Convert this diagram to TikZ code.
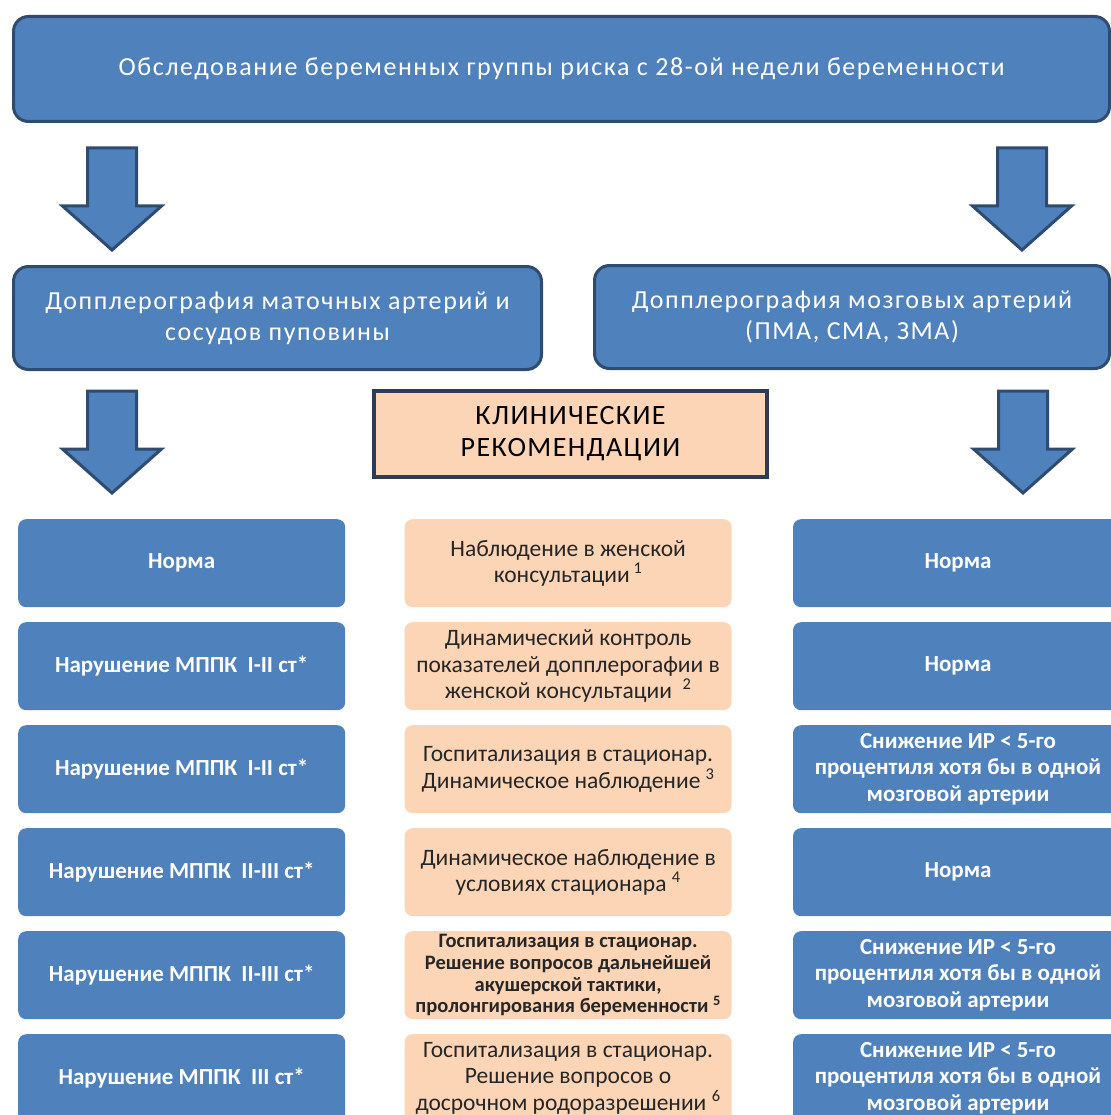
\documentclass[tikz,border=0pt]{standalone}
\usepackage{fontspec}
\setmainfont{Carlito}
\newfontfamily\spacedfont[LetterSpace=6]{Carlito}
\newfontfamily\recfont[LetterSpace=5]{Carlito}
\usetikzlibrary{positioning}

\definecolor{boxblue}{HTML}{4F81BD}
\definecolor{edgeblue}{HTML}{2F4B70}
\definecolor{peach}{HTML}{FBD5B5}
\definecolor{recedge}{HTML}{2C3B57}
\definecolor{midtext}{HTML}{262626}

\tikzset{
    pics/downarrow/.style={
        code={
            \draw[draw=edgeblue, line width=3pt, fill=boxblue, line join=miter]
                (-24.5,0) -- (24.5,0) -- (24.5,-58) -- (49.5,-58)
                -- (0,-102) -- (-49.5,-58) -- (-24.5,-58) -- cycle;
        }
    }
}

\begin{document}
\begin{tikzpicture}[x=1pt, y=1pt,
            headbox/.style={
                draw=edgeblue,
                line width=3pt,
                fill=boxblue,
                rounded corners=15pt,
                text=white,
                font=\spacedfont\fontsize{26}{31}\selectfont,
                inner sep=0pt,
                align=center
            },
            recbox/.style={
                draw=recedge,
                line width=4pt,
                fill=peach,
                font=\recfont\fontsize{28}{32}\selectfont,
                inner sep=0pt,
                align=center
            },
            leftbox/.style={
                fill=boxblue,
                rounded corners=8pt,
                minimum width=327pt,
                minimum height=88pt,
                text=white,
                font=\bfseries\fontsize{23}{26.5}\selectfont,
                inner sep=0pt,
                align=center
            },
            midbox/.style={
                leftbox,
                fill=peach,
                text=midtext,
                font=\fontsize{23.5}{26.5}\selectfont
            },
            rightbox/.style={
                leftbox,
                minimum width=330pt
            }
        ]

        \useasboundingbox (0,0) rectangle (1110,-1115);

        % Survey of the risk group (top, full width)
        \node[headbox,
            minimum width=1096pt,
            minimum height=105pt,
            anchor=north west
        ] (survey) at (12,-15)
            {Обследование беременных группы риска с 28-ой недели беременности};

        % Doppler branches
        \node[headbox,
            minimum width=528pt,
            minimum height=103pt,
            anchor=north west
        ] (uterine) at (12,-265)
            {Допплерография маточных артерий и\\сосудов пуповины};

        \node[headbox,
            minimum width=515pt,
            minimum height=103pt,
            anchor=north west
        ] (cerebral) at (593,-264)
            {Допплерография мозговых артерий\\(ПМА, СМА, ЗМА)};

        \pic at ([xshift=100pt, yshift=-25pt]survey.south west) {downarrow};
        \pic at ([xshift=-89pt, yshift=-25pt]survey.south east) {downarrow};
        \pic at ([xshift=100pt, yshift=-20pt]uterine.south west) {downarrow};
        \pic at ([xshift=-88pt, yshift=-21pt]cerebral.south east) {downarrow};

        % Clinical recommendations header
        \node[recbox,
            minimum width=393pt,
            minimum height=86pt,
            anchor=north west
        ] (clinical) at (372,-389)
            {КЛИНИЧЕСКИЕ\\РЕКОМЕНДАЦИИ};

        % Row 1
        \node[leftbox, anchor=north west] (l1) at (18,-519) {Норма};
        \node[midbox, right=59pt of l1] (m1)
            {Наблюдение в женской\\консультации\,\textsuperscript{1}};
        \node[rightbox, right=61pt of m1.east, anchor=west] (r1) {Норма};

        % Row 2
        \node[leftbox, below=14.6pt of l1] (l2) {Нарушение МППК~~I-II ст*};
        \node[midbox, right=59pt of l2] (m2)
            {Динамический контроль\\показателей допплерогафии в\\женской консультации~~\textsuperscript{2}};
        \node[rightbox, right=61pt of m2.east, anchor=west] (r2) {Норма};

        % Row 3
        \node[leftbox, below=14.6pt of l2] (l3) {Нарушение МППК~~I-II ст*};
        \node[midbox, right=59pt of l3] (m3)
            {Госпитализация в стационар.\\Динамическое наблюдение \textsuperscript{3}};
        \node[rightbox, right=61pt of m3.east, anchor=west] (r3)
            {Снижение ИР < 5-го\\процентиля хотя бы в одной\\мозговой артерии};

        % Row 4
        \node[leftbox, below=14.6pt of l3] (l4) {Нарушение МППК~~II-III ст*};
        \node[midbox, right=59pt of l4] (m4)
            {Динамическое наблюдение в\\условиях стационара \textsuperscript{4}};
        \node[rightbox, right=61pt of m4.east, anchor=west] (r4) {Норма};

        % Row 5
        \node[leftbox, below=14.6pt of l4] (l5) {Нарушение МППК~~II-III ст*};
        \node[midbox, right=59pt of l5,
            font=\bfseries\fontsize{20.5}{21.7}\selectfont] (m5)
            {Госпитализация в стационар.\\Решение вопросов дальнейшей\\акушерской тактики,\\пролонгирования беременности \textsuperscript{5}};
        \node[rightbox, right=61pt of m5.east, anchor=west] (r5)
            {Снижение ИР < 5-го\\процентиля хотя бы в одной\\мозговой артерии};

        % Row 6
        \node[leftbox, below=14.6pt of l5] (l6) {Нарушение МППК~~III ст*};
        \node[midbox, right=59pt of l6] (m6)
            {Госпитализация в стационар.\\Решение вопросов о\\досрочном родоразрешении \textsuperscript{6}};
        \node[rightbox, right=61pt of m6.east, anchor=west] (r6)
            {Снижение ИР < 5-го\\процентиля хотя бы в одной\\мозговой артерии};
        \end{tikzpicture}
\end{document}
